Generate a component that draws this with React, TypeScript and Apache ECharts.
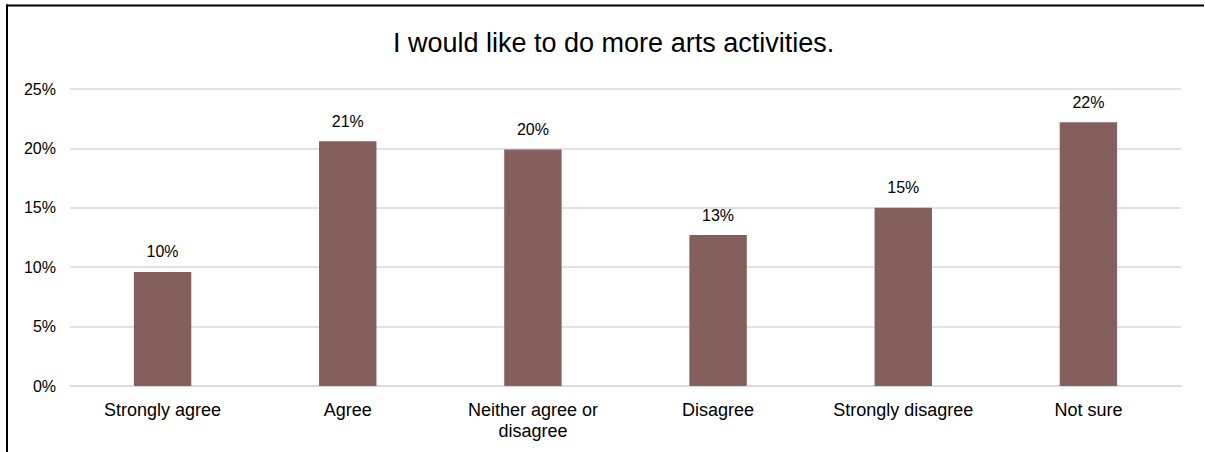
import React, { useEffect, useRef } from "react";
import * as echarts from "echarts";

const title = "I would like to do more arts activities.";
const categories = ["Strongly agree", "Agree", "Neither agree or\ndisagree", "Disagree", "Strongly disagree", "Not sure"];
const values = [9.6, 20.6, 19.9, 12.7, 15.0, 22.2];
const yTicks = [0, 5, 10, 15, 20, 25];

const FONT = "Liberation Sans, Arial, sans-serif";

export default function App() {
  const ref = useRef<HTMLDivElement>(null);
  useEffect(() => {
    const chart = echarts.init(ref.current!, null, { renderer: "svg" });
    chart.setOption({
      animation: false,
      backgroundColor: "#ffffff",
      textStyle: { fontFamily: FONT },
      title: {
        text: title,
        left: 388,
        top: 24,
        textStyle: { fontSize: 27, fontWeight: "normal", color: "#000", fontFamily: FONT },
      },
      graphic: [
        {
          type: "rect",
          shape: { x: 6, y: 4.5, width: 1198, height: 2 },
          style: { fill: "#000" },
          silent: true,
        },
        {
          type: "rect",
          shape: { x: 6, y: 4.5, width: 2, height: 448 },
          style: { fill: "#000" },
          silent: true,
        },
      ],
      grid: { left: 70, right: 24, top: 89, bottom: 66, containLabel: false },
      xAxis: {
        type: "category",
        data: categories,
        axisLine: { lineStyle: { color: "#d9d9d9", width: 1.5 } },
        axisTick: { show: false },
        axisLabel: { color: "#000", fontSize: 18, margin: 13, lineHeight: 21, interval: 0 },
      },
      yAxis: {
        type: "value",
        min: yTicks[0],
        max: yTicks[yTicks.length - 1],
        interval: 5,
        axisLine: { show: false },
        axisTick: { show: false },
        axisLabel: { color: "#000", fontSize: 16, margin: 14, formatter: (v: number) => v + "%" },
        splitLine: { lineStyle: { color: "#d9d9d9", width: 1.5 } },
      },
      series: [
        {
          type: "bar",
          data: values,
          barWidth: "31%",
          itemStyle: { color: "#855f5c" },
          label: {
            show: true,
            position: "top",
            distance: 12,
            color: "#000",
            fontSize: 16,
            formatter: (p: any) => Math.round(p.value) + "%",
          },
        },
      ],
    });
    return () => chart.dispose();
  }, []);
  return (
    <div style={{ position: "fixed", left: 0, top: 0, width: 1205, height: 452, overflow: "hidden" }}>
      <div ref={ref} style={{ width: 1205, height: 452 }} />
    </div>
  );
}
